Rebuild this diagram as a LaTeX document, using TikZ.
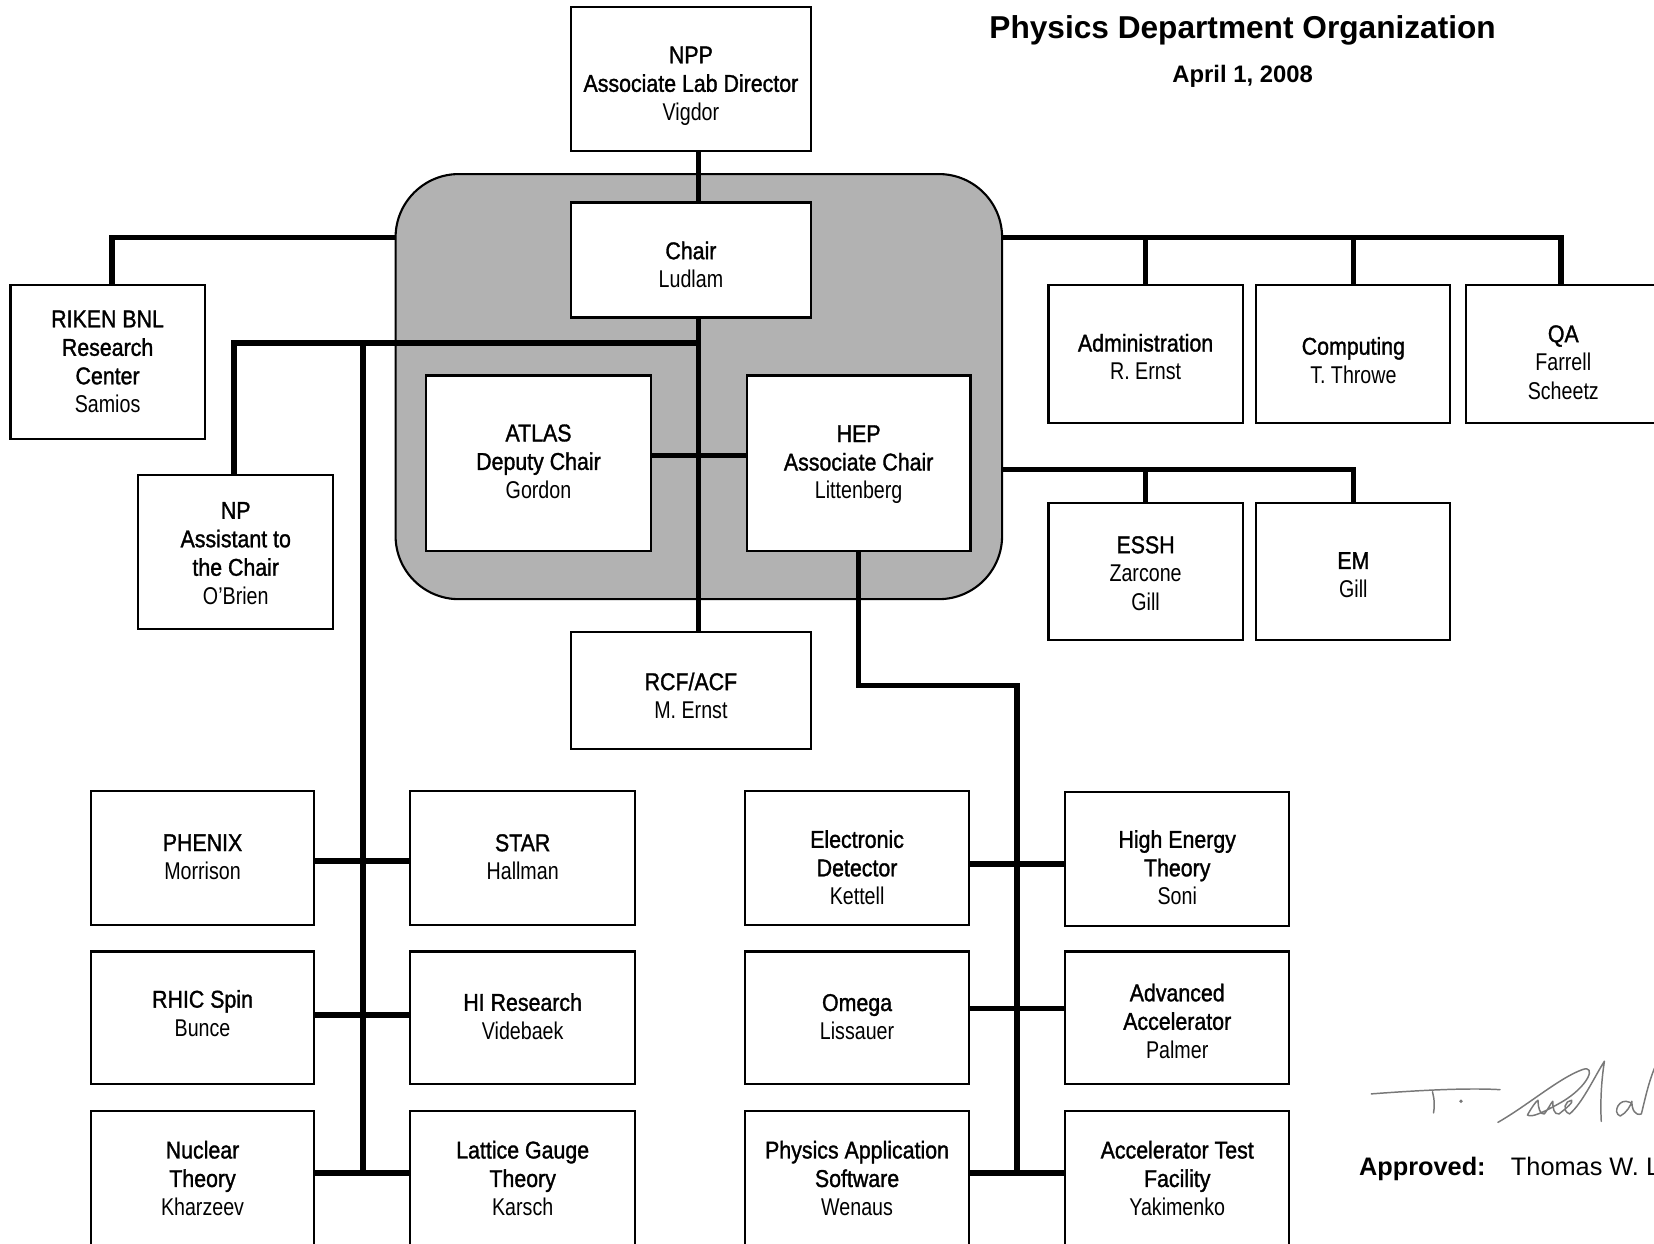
\documentclass[tikz,border=0pt]{standalone}
\usepackage{fontspec}
\setmainfont{Liberation Sans}
\newfontfamily\hdf[FakeStretch=0.88,FakeBold=1.3]{Liberation Sans}
\newfontfamily\nmf[FakeStretch=0.81]{Liberation Sans}
\newfontfamily\arf{Liberation Sans}
\definecolor{grpfill}{RGB}{178,178,178}
\definecolor{sigc}{RGB}{120,120,120}
\newcommand\hx[1]{{\hdf #1}}
\newcommand\nx[1]{{\nmf #1}}
\tikzset{
  x=0.5pt, y=-0.5pt,
  box/.style={draw, line width=1pt, fill=white, inner sep=0pt},
  txt/.style={align=center, inner sep=0pt, font=\fontsize{11.5}{13.5}\selectfont},
  sz/.style n args={2}{minimum width=#1*0.5pt, minimum height=#2*0.5pt},
  conn/.style={line width=2.6pt},
  grpbox/.style={draw, line width=1pt, fill=grpfill, rounded corners=30pt, inner sep=0pt},
  sig/.style={draw=sigc, line width=0.7pt, line cap=round, line join=round},
}
% name, cx, cy, w, h, text-y, text
\newcommand\bx[7]{%
  \node[box, sz={#4}{#5}] (#1) at (#2,#3) {};
  \node[txt] (#1-t) at (#2,#6) {#7};}
\begin{document}
\begin{tikzpicture}
\useasboundingbox (0,0) rectangle (1568,1179);
% group background
\node[grpbox, sz={575}{403}] (grp) at (662.5,366.5) {};
% top
\bx{npp}{655}{75}{228}{136}{81.5}{\hx{NPP}\\\hx{Associate Lab Director}\\\nx{Vigdor}}
\bx{chair}{655}{246.5}{228}{109}{251}{\hx{Chair}\\\nx{Ludlam}}
\bx{atlas}{510.5}{439}{213}{166}{437.5}{\hx{ATLAS}\\\hx{Deputy Chair}\\\nx{Gordon}}
\bx{hep}{814}{439}{212}{166}{440.5}{\hx{HEP}\\\hx{Associate Chair}\\\nx{Littenberg}}
\bx{rcf}{655}{654.5}{228}{111}{659.5}{\hx{RCF/ACF}\\\nx{M. Ernst}}
\bx{riken}{102}{343}{184}{146}{343}{\hx{RIKEN BNL}\\\hx{Research}\\\hx{Center}\\\nx{Samios}}
\bx{np}{223.5}{523}{185}{146}{524.5}{\hx{NP}\\\hx{Assistant to}\\\hx{the Chair}\\\nx{O’Brien}}
\bx{admin}{1086}{335.5}{184}{131}{338.5}{\hx{Administration}\\\nx{R. Ernst}}
\bx{comp}{1283}{335.5}{184}{131}{341.5}{\hx{Computing}\\\nx{T. Throwe}}
\bx{qa}{1482}{335.5}{184}{131}{343.5}{\hx{QA}\\\nx{Farrell}\\\nx{Scheetz}}
\bx{essh}{1086}{542}{184}{130}{543.5}{\hx{ESSH}\\\nx{Zarcone}\\\nx{Gill}}
\bx{em}{1283}{542}{184}{130}{545}{\hx{EM}\\\nx{Gill}}
% left grid
\bx{phenix}{192}{813.5}{212}{127}{812.5}{\hx{PHENIX}\\\nx{Morrison}}
\bx{star}{495.5}{813.5}{213}{127}{812.5}{\hx{STAR}\\\nx{Hallman}}
\bx{rhic}{192}{965}{212}{126}{960.5}{\hx{RHIC Spin}\\\nx{Bunce}}
\bx{hi}{495.5}{965}{213}{126}{963.5}{\hx{HI Research}\\\nx{Videbaek}}
\bx{nuc}{192}{1120}{212}{134}{1117}{\hx{Nuclear}\\\hx{Theory}\\\nx{Kharzeev}}
\bx{lat}{495.5}{1120}{213}{134}{1117}{\hx{Lattice Gauge}\\\hx{Theory}\\\nx{Karsch}}
% right grid
\bx{ed}{812.5}{813.5}{213}{127}{822.5}{\hx{Electronic}\\\hx{Detector}\\\nx{Kettell}}
\bx{het}{1116}{814.5}{212}{127}{822.5}{\hx{High Energy}\\\hx{Theory}\\\nx{Soni}}
\bx{omega}{812.5}{965}{213}{126}{964}{\hx{Omega}\\\nx{Lissauer}}
\bx{adv}{1116}{965}{212}{126}{968}{\hx{Advanced}\\\hx{Accelerator}\\\nx{Palmer}}
\bx{pas}{812.5}{1120}{213}{134}{1117}{\hx{Physics Application}\\\hx{Software}\\\nx{Wenaus}}
\bx{atf}{1116}{1120}{212}{134}{1117}{\hx{Accelerator Test}\\\hx{Facility}\\\nx{Yakimenko}}
% coordinates
\coordinate (sp) at (662,0);
\coordinate (ahy) at (0,432);
\coordinate (rk) at (106,225);
\coordinate (npc) at (222,325);
\coordinate (lbt) at (344,325);
\coordinate (lbb) at (344,1112);
\coordinate (rb) at (964,650);
\coordinate (rbb) at (964,1112);
\coordinate (tr) at (1480,225);
\coordinate (sr) at (1283,445);
% connectors
\draw[conn] (npp.south -| sp) -- (chair.north -| sp);
\draw[conn] (chair.south -| sp) -- (rcf.north -| sp);
\draw[conn] (atlas.east |- ahy) -- (hep.west |- ahy);
\draw[conn] (grp.west |- rk) -| (riken.north -| rk);
\draw[conn] (sp |- npc) -| (np.north -| npc);
\draw[conn] (lbt) -- (lbb);
\draw[conn] (phenix.east |- 0,816) -- (star.west |- 0,816);
\draw[conn] (rhic.east |- 0,962) -- (hi.west |- 0,962);
\draw[conn] (nuc.east |- lbb) -- (lat.west |- lbb);
\draw[conn] (hep.south) -- (hep.south |- rb) -- (rb) -- (rbb);
\draw[conn] (ed.east |- 0,819) -- (het.west |- 0,819);
\draw[conn] (omega.east |- 0,956) -- (adv.west |- 0,956);
\draw[conn] (pas.east |- rbb) -- (atf.west |- rbb);
\draw[conn] (grp.east |- tr) -| (qa.north -| tr);
\draw[conn] (admin.north |- tr) -- (admin.north);
\draw[conn] (comp.north |- tr) -- (comp.north);
\draw[conn] (grp.east |- sr) -| (em.north);
\draw[conn] (essh.north |- sr) -- (essh.north);
% title
\node[font=\fontsize{15}{18}\selectfont\arf\bfseries] (title) at (1178,29) {Physics Department Organization};
\node[font=\fontsize{11.3}{13}\selectfont\arf\bfseries] (date) at (1178,72) {April 1, 2008};
% signature
\draw[sig] (1300,1037) .. controls (1340,1034) and (1390,1031) .. (1422,1033);
\draw[sig] (1358,1035) .. controls (1360,1042) and (1360,1050) .. (1359,1055);
\fill[sigc] (1385,1044) circle (0.9pt);
\draw[sig] (1420,1064) .. controls (1448,1048) and (1478,1022) .. (1500,1014)
  .. controls (1514,1009) and (1506,1030) .. (1480,1045)
  .. controls (1464,1054) and (1452,1060) .. (1448,1057)
  .. controls (1452,1050) and (1456,1044) .. (1458,1043)
  .. controls (1458,1050) and (1460,1057) .. (1464,1056)
  .. controls (1468,1051) and (1470,1046) .. (1472,1044)
  .. controls (1472,1050) and (1473,1057) .. (1478,1056)
  .. controls (1484,1051) and (1492,1045) .. (1490,1043)
  .. controls (1484,1043) and (1480,1053) .. (1488,1056)
  .. controls (1500,1046) and (1512,1020) .. (1521,1006)
  .. controls (1518,1025) and (1517,1045) .. (1518,1063);
\draw[sig] (1545,1045) .. controls (1535,1040) and (1528,1055) .. (1536,1058)
  .. controls (1542,1055) and (1546,1048) .. (1547,1044)
  .. controls (1547,1052) and (1550,1058) .. (1556,1056)
  .. controls (1560,1040) and (1565,1015) .. (1575,1000);
% approval
\node[anchor=base west, inner sep=0pt, font=\fontsize{12}{14}\selectfont\arf\bfseries] (appr) at (1288,1114) {Approved:};
\node[anchor=base west, inner sep=0pt, font=\fontsize{12}{14}\selectfont\arf] (apprn) at (1432,1114) {Thomas W. Ludlam};
\end{tikzpicture}
\end{document}
